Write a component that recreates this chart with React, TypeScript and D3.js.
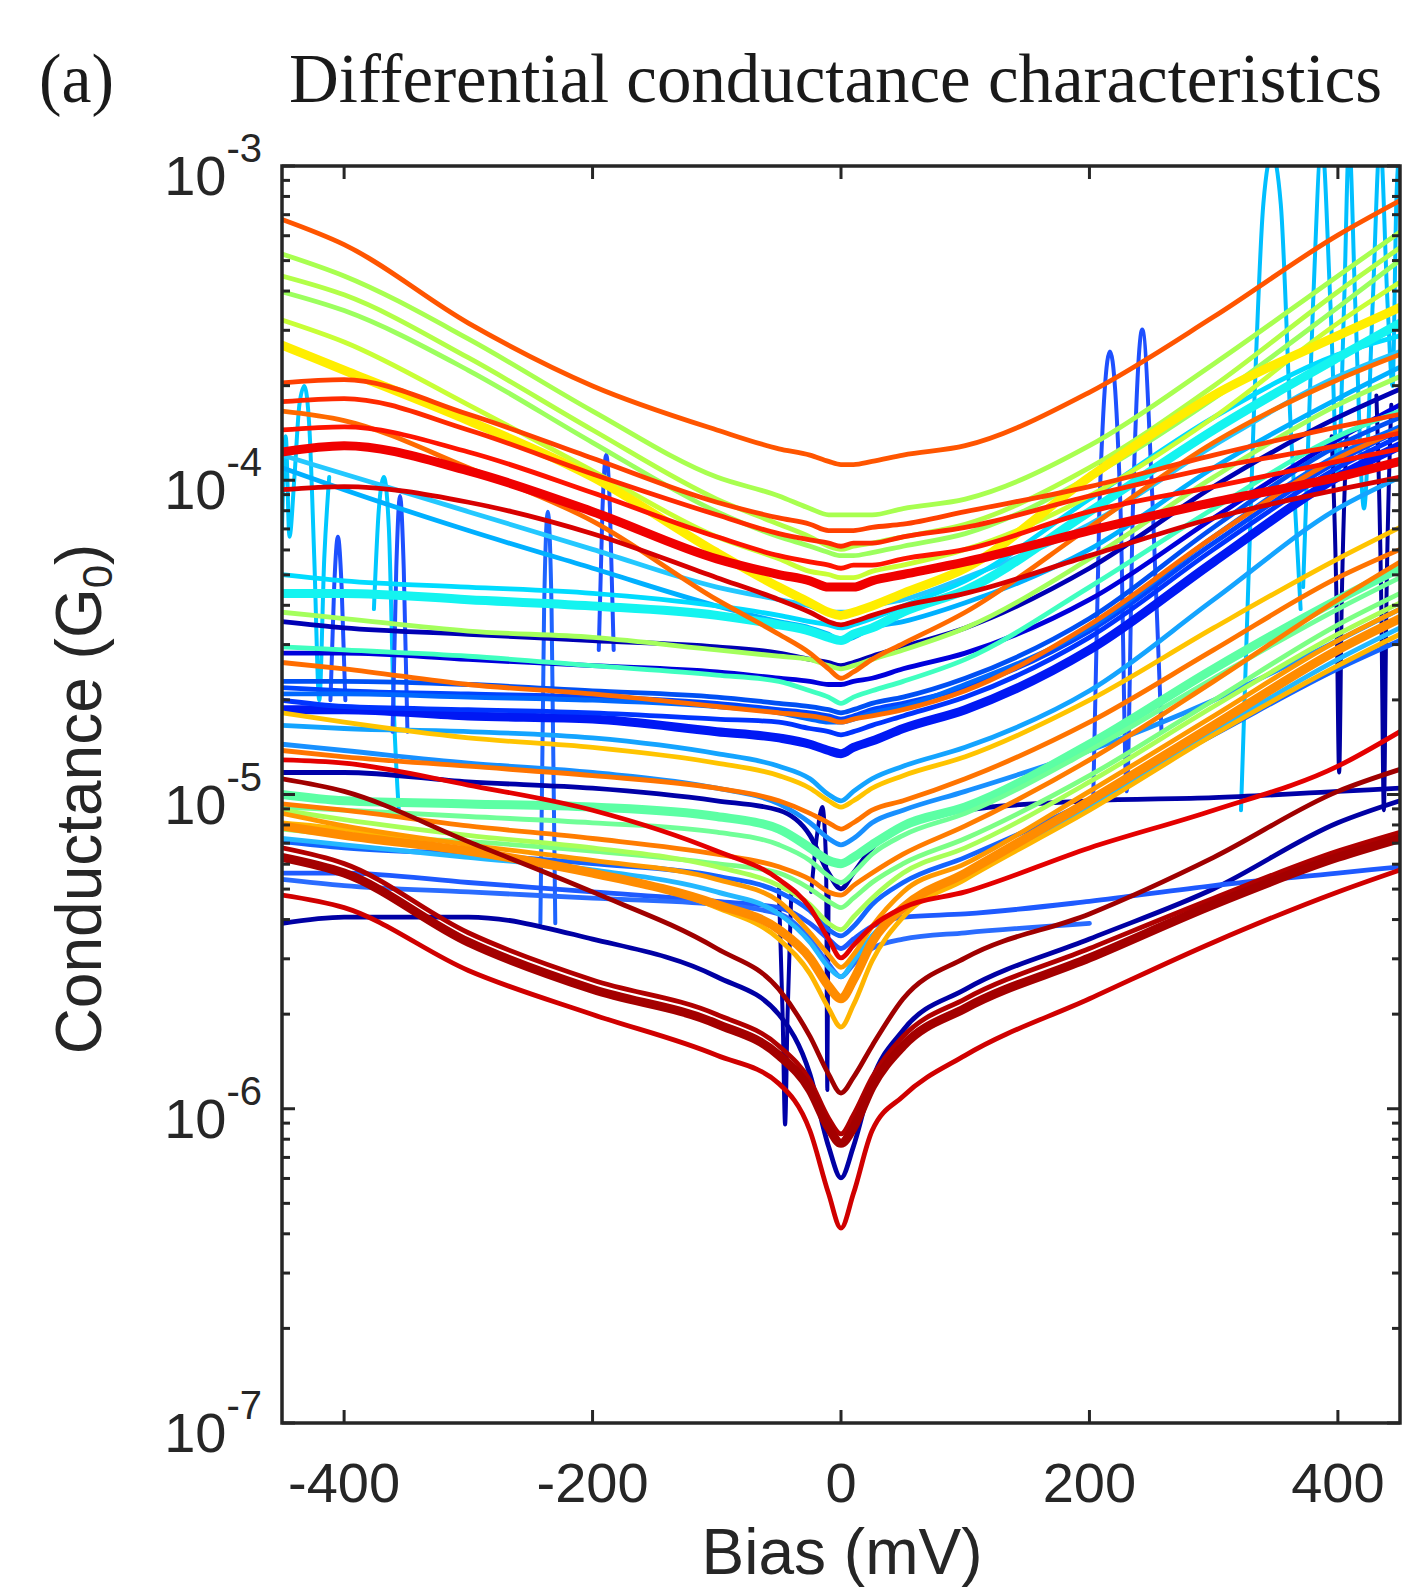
import React from 'react';
import * as d3 from 'd3';

// Bias sample points (mV) shared by every trace
const biasMV = [-450, -400, -300, -200, -100, -50, -25, -10, 0, 10, 25, 50, 100, 200, 300, 400, 450];

// log10 of differential conductance (G0) at each bias sample
const tDBB = [-5.41,-5.39,-5.39,-5.46,-5.58,-5.70,-5.89,-6.12,-6.22,-6.12,-5.91,-5.75,-5.62,-5.46,-5.30,-5.09,-5.02];
const tM6 = [-4.93,-4.93,-4.96,-4.98,-5.02,-5.05,-5.13,-5.25,-5.30,-5.25,-5.17,-5.10,-5.05,-5.02,-5.01,-4.99,-4.98];
const tDB1 = [-4.45,-4.47,-4.49,-4.51,-4.53,-4.55,-4.57,-4.58,-4.59,-4.58,-4.56,-4.53,-4.47,-4.28,-4.02,-3.80,-3.71];
const tDB2 = [-4.55,-4.55,-4.57,-4.59,-4.61,-4.63,-4.64,-4.65,-4.65,-4.64,-4.63,-4.60,-4.55,-4.38,-4.12,-3.87,-3.76];
const tB4 = [-4.73,-4.73,-4.75,-4.76,-4.80,-4.82,-4.84,-4.86,-4.87,-4.85,-4.83,-4.79,-4.73,-4.54,-4.26,-3.99,-3.89];
const tB3 = [-4.70,-4.72,-4.73,-4.74,-4.76,-4.77,-4.79,-4.80,-4.81,-4.80,-4.78,-4.75,-4.69,-4.50,-4.22,-3.96,-3.86];
const tB5 = [-4.66,-4.67,-4.68,-4.69,-4.71,-4.73,-4.74,-4.75,-4.76,-4.75,-4.73,-4.71,-4.66,-4.48,-4.20,-3.94,-3.84];
const tB1 = [-4.64,-4.64,-4.65,-4.67,-4.69,-4.71,-4.72,-4.73,-4.74,-4.73,-4.71,-4.69,-4.63,-4.44,-4.15,-3.89,-3.80];
const tBL2 = [-5.25,-5.25,-5.28,-5.31,-5.34,-5.36,-5.41,-5.46,-5.49,-5.46,-5.42,-5.39,-5.38,-5.34,-5.29,-5.25,-5.23];
const tM10 = [-5.15,-5.17,-5.19,-5.22,-5.26,-5.31,-5.37,-5.43,-5.45,-5.42,-5.35,-5.28,-5.20,-5.02,-4.81,-4.60,-4.51];
const tB2 = [-4.68,-4.68,-4.69,-4.70,-4.72,-4.74,-4.76,-4.77,-4.77,-4.76,-4.74,-4.72,-4.65,-4.47,-4.18,-3.92,-3.83];
const tBL1 = [-5.27,-5.29,-5.31,-5.33,-5.35,-5.38,-5.46,-5.54,-5.58,-5.54,-5.49,-5.46,-5.44,-5.41,null,null,null];
const tM4 = [-4.84,-4.86,-4.90,-4.93,-4.98,-5.03,-5.09,-5.14,-5.16,-5.14,-5.09,-5.05,-4.99,-4.86,-4.70,-4.51,-4.41];
const tM1 = [-4.78,-4.79,-4.80,-4.82,-4.87,-4.91,-4.95,-5.00,-5.02,-4.99,-4.95,-4.91,-4.85,-4.67,-4.38,-4.09,-3.99];
const tLB2 = [-3.96,-4.03,-4.16,-4.28,-4.40,-4.45,-4.47,-4.49,-4.51,-4.50,-4.47,-4.45,-4.39,-4.22,-3.96,-3.74,-3.64];
const tM12 = [-5.14,-5.16,-5.20,-5.24,-5.31,-5.38,-5.47,-5.55,-5.58,-5.53,-5.45,-5.36,-5.25,-5.04,-4.80,-4.57,-4.47];
const tLB1 = [-3.92,-3.98,-4.10,-4.22,-4.34,-4.38,-4.40,-4.42,-4.42,-4.42,-4.40,-4.38,-4.31,-4.14,-3.89,-3.67,-3.59];
const tCY2 = [-4.30,-4.32,-4.34,-4.36,-4.40,-4.43,-4.45,-4.46,-4.47,-4.46,-4.44,-4.40,-4.32,-4.06,-3.80,-3.60,-3.54];
const tCY1 = [-4.36,-4.36,-4.38,-4.40,-4.43,-4.46,-4.48,-4.50,-4.51,-4.49,-4.47,-4.42,-4.35,-4.10,-3.84,-3.61,-3.50];
const tAQ1 = [-4.53,-4.54,-4.56,-4.59,-4.62,-4.64,-4.67,-4.69,-4.71,-4.69,-4.67,-4.64,-4.57,-4.34,-4.09,-3.86,-3.78];
const tM5 = [-5.00,-5.02,-5.03,-5.04,-5.07,-5.11,-5.17,-5.21,-5.22,-5.20,-5.16,-5.10,-5.04,-4.84,-4.60,-4.38,-4.28];
const tM15 = [-5.04,-5.05,-5.07,-5.09,-5.12,-5.16,-5.21,-5.26,-5.28,-5.25,-5.19,-5.13,-5.06,-4.86,-4.63,-4.41,-4.31];
const tM8 = [-5.11,-5.13,-5.15,-5.18,-5.22,-5.25,-5.30,-5.34,-5.36,-5.33,-5.28,-5.22,-5.14,-4.94,-4.70,-4.46,-4.36];
const tT4 = [-3.40,-3.46,-3.65,-3.88,-4.10,-4.18,-4.21,-4.23,-4.24,-4.24,-4.23,-4.21,-4.17,-3.99,-3.74,-3.45,-3.30];
const tLG1 = [-4.42,-4.44,-4.48,-4.50,-4.54,-4.56,-4.57,-4.59,-4.60,-4.59,-4.57,-4.54,-4.47,-4.25,-3.99,-3.76,-3.67];
const tT2 = [-3.28,-3.35,-3.55,-3.78,-3.99,-4.05,-4.09,-4.11,-4.11,-4.11,-4.11,-4.09,-4.06,-3.89,-3.63,-3.35,-3.21];
const tM9 = [-5.05,-5.08,-5.13,-5.17,-5.23,-5.29,-5.35,-5.41,-5.43,-5.39,-5.33,-5.25,-5.17,-4.96,-4.72,-4.49,-4.39];
const tT3 = [-3.35,-3.41,-3.61,-3.84,-4.06,-4.14,-4.18,-4.21,-4.22,-4.21,-4.20,-4.18,-4.14,-3.96,-3.70,-3.40,-3.26];
const tT5 = [-3.49,-3.56,-3.76,-3.97,-4.18,-4.25,-4.29,-4.30,-4.31,-4.31,-4.29,-4.27,-4.22,-4.05,-3.80,-3.50,-3.37];
const tT6 = [-3.57,-3.65,-3.81,-3.99,-4.23,-4.34,-4.39,-4.42,-4.43,-4.42,-4.40,-4.36,-4.28,-3.99,-3.73,-3.54,-3.45];
const tM14 = [-5.09,-5.11,-5.18,-5.25,-5.36,-5.46,-5.57,-5.68,-5.74,-5.67,-5.53,-5.39,-5.27,-5.05,-4.81,-4.59,-4.49];
const tM2 = [-4.74,-4.77,-4.82,-4.85,-4.90,-4.94,-4.98,-5.02,-5.04,-5.02,-4.98,-4.94,-4.88,-4.70,-4.47,-4.25,-4.15];
const tM11 = [-5.06,-5.10,-5.16,-5.21,-5.27,-5.34,-5.44,-5.51,-5.55,-5.51,-5.42,-5.31,-5.22,-4.99,-4.75,-4.51,-4.41];
const tM13 = [-5.10,-5.13,-5.18,-5.25,-5.35,-5.43,-5.52,-5.61,-5.65,-5.59,-5.47,-5.36,-5.25,-5.02,-4.78,-4.54,-4.44];
const tM7 = [-5.03,-5.05,-5.10,-5.14,-5.19,-5.23,-5.27,-5.31,-5.32,-5.29,-5.25,-5.19,-5.10,-4.89,-4.64,-4.38,-4.26];
const tM3 = [-4.86,-4.88,-4.91,-4.94,-4.98,-5.02,-5.06,-5.09,-5.11,-5.09,-5.05,-5.02,-4.95,-4.77,-4.54,-4.31,-4.22];
const tO2 = [-4.58,-4.60,-4.65,-4.68,-4.72,-4.74,-4.75,-4.76,-4.77,-4.76,-4.75,-4.73,-4.67,-4.46,-4.18,-3.93,-3.84];
const tO1 = [-3.78,-3.81,-3.96,-4.13,-4.38,-4.49,-4.55,-4.60,-4.63,-4.61,-4.57,-4.52,-4.42,-4.15,-3.88,-3.68,-3.60];
const tT1 = [-3.17,-3.25,-3.50,-3.70,-3.84,-3.90,-3.92,-3.94,-3.95,-3.95,-3.94,-3.92,-3.89,-3.72,-3.48,-3.22,-3.11];
const tR1 = [-3.69,-3.68,-3.79,-3.93,-4.07,-4.12,-4.14,-4.16,-4.16,-4.16,-4.15,-4.14,-4.10,-4.02,-3.92,-3.83,-3.79];
const tR2 = [-3.75,-3.74,-3.84,-3.98,-4.11,-4.17,-4.19,-4.20,-4.21,-4.20,-4.20,-4.18,-4.15,-4.05,-3.96,-3.89,-3.85];
const tR3 = [-3.84,-3.83,-3.91,-4.04,-4.18,-4.24,-4.26,-4.27,-4.28,-4.27,-4.27,-4.25,-4.22,-4.10,-4.02,-3.94,-3.90];
const tR4 = [-3.91,-3.89,-3.97,-4.10,-4.25,-4.30,-4.32,-4.34,-4.34,-4.34,-4.32,-4.30,-4.26,-4.16,-4.07,-3.99,-3.94];
const tRU = [-4.89,-4.90,-4.97,-5.05,-5.18,-5.27,-5.36,-5.46,-5.52,-5.48,-5.42,-5.36,-5.31,-5.17,-5.05,-4.91,-4.80];
const tR5 = [-4.03,-4.02,-4.07,-4.17,-4.31,-4.38,-4.42,-4.45,-4.46,-4.45,-4.43,-4.40,-4.36,-4.24,-4.12,-4.03,-3.99];
const tRB = [-5.32,-5.36,-5.56,-5.70,-5.83,-5.92,-6.07,-6.27,-6.38,-6.27,-6.07,-5.96,-5.83,-5.65,-5.47,-5.31,-5.24];
const tDR1 = [-4.95,-4.99,-5.15,-5.31,-5.49,-5.62,-5.77,-5.89,-5.95,-5.90,-5.80,-5.65,-5.52,-5.38,-5.20,-4.99,-4.92];
const tDR3 = [-5.17,-5.22,-5.44,-5.59,-5.70,-5.80,-5.91,-6.03,-6.08,-6.02,-5.90,-5.77,-5.65,-5.49,-5.33,-5.18,-5.12];
const tDR2 = [-5.20,-5.25,-5.47,-5.62,-5.73,-5.83,-5.94,-6.06,-6.11,-6.06,-5.93,-5.80,-5.68,-5.52,-5.35,-5.20,-5.14];

const traces = [tDBB, tM6, tDB1, tDB2, tB4, tB3, tB5, tB1, tBL2, tM10, tB2, tBL1, tM4, tM1, tLB2, tM12, tLB1,
  tCY2, tCY1, tAQ1, tM5, tM15, tM8, tT4, tLG1, tT2, tM9, tT3, tT5, tT6, tM14, tM2, tM11, tM13, tM7, tM3, tO2,
  tO1, tT1, tR1, tR2, tR3, tR4, tRU, tR5, tRB, tDR1, tDR3, tDR2];

const traceColors = ['#0000A4', '#0000A8', '#0000B4', '#0000DC', '#0018F4', '#0034FF', '#0044FF', '#0050F4', '#1E5AFF',
  '#1464FF', '#0068FF', '#2A6CFF', '#1890FF', '#14A4FF', '#00B0FF', '#24B8FF', '#24C8FF', '#00DCFF', '#14F4F0',
  '#40FFC0', '#5CFFA4', '#70FF98', '#7CFF84', '#9CFF5E', '#A4FF5C', '#A8FF50', '#A8FF58', '#B2FF48', '#C8FF36', '#FFEE00',
  '#FFB400', '#FFC400', '#FF9800', '#FF8C00', '#FF7C00', '#FF7400', '#FF6C00', '#FF6A00', '#FF5500', '#FF4000',
  '#FF2A00', '#FF1400', '#F00000', '#E40000', '#D80000', '#D00000', '#A00000', '#B00000', '#A40000'];

const thickTraces = [4, 18, 20, 29, 33, 42, 48];

// Glitch spikes in single sweeps: bias (mV) and log10 conductance
const spikeBias = [
  [203, 208, 216.5, 225, 230, 235, 242.5, 251, 258],
  [322, 332, 340, 347, 354, 362, 370],
  [372, 380, 387, 394, 400, 405, 409, 414, 421, 428, 434, 440, 444, 447, 450],
  [395, 399, 401, 403, 407],
  [431, 435, 437, 439, 443],
  [-450, -447, -444, -440, -436, -432, -428, -424, -420, -416, -412],
  [-376, -372, -368, -364, -360, -356],
  [-411, -408, -405, -402, -399],
  [-361, -358, -355, -352, -349],
  [-242, -239, -236, -233, -230],
  [-195, -192, -189, -186, -183],
  [-50, -47, -45, -43, -40],
  [-24, -19, -15, -12, -11, -10],
];
const spikeLogG = [
  [-5.02, -4.09, -3.59, -4.09, -4.99, -4.09, -3.52, -4.09, -4.80],
  [-5.05, -3.83, -3.12, -2.96, -3.12, -3.83, -4.41],
  [-4.34, -3.44, -2.92, -3.44, -3.99, -3.44, -2.92, -3.44, -4.09, -3.44, -2.92, -3.44, -3.70, -3.12, -2.92],
  [-3.86, -4.41, -4.93, -4.41, -3.86],
  [-3.73, -4.41, -5.05, -4.41, -3.76],
  [-4.15, -3.86, -4.18, -3.99, -3.76, -3.70, -3.83, -4.25, -4.70, -4.25, -3.99],
  [-4.41, -4.09, -3.99, -4.15, -4.73, -5.05],
  [-4.70, -4.34, -4.18, -4.34, -4.70],
  [-4.80, -4.28, -4.05, -4.28, -4.80],
  [-5.41, -4.41, -4.10, -4.41, -5.41],
  [-4.54, -4.09, -3.92, -4.09, -4.54],
  [-5.30, -5.70, -6.05, -5.70, -5.31],
  [-5.31, -5.12, -5.04, -5.22, -5.94, -5.31],
];
const spikeColors = ['#1E50FF', '#00BFFF', '#00BFFF', '#0000A0', '#0000A0', '#00C8FF', '#00C8FF',
  '#1E50FF', '#1E50FF', '#1E64FF', '#1E50FF', '#0000A8', '#0000A8'];

const xTicks = [-400, -200, 0, 200, 400];
const yTickExponents = [-3, -4, -5, -6, -7];
const minorMantissas = [2, 3, 4, 5, 6, 7, 8, 9];

export default function App() {
  const W = 1408, H = 1591;
  const L = 282, R = 1400, T = 166, B = 1423;
  const axisColor = '#262626';
  const x = d3.scaleLinear().domain([-450, 450]).range([L, R]);
  const y = d3.scaleLog().domain([1e-7, 1e-3]).range([B, T]);

  const line = d3.line<[number, number | null]>()
    .defined((d) => d[1] !== null)
    .x((d) => x(d[0]))
    .y((d) => y(Math.pow(10, d[1] as number)))
    .curve(d3.curveMonotoneX);

  const minorVals: number[] = [];
  for (let e = -7; e < -3; e++) for (const m of minorMantissas) minorVals.push(m * Math.pow(10, e));

  const sans = "'Liberation Sans', Arial, Helvetica, sans-serif";
  const serif = "'Liberation Serif', 'Times New Roman', serif";

  return (
    <svg width={W} height={H} viewBox={`0 0 ${W} ${H}`}
      style={{ position: 'absolute', left: 0, top: 0, display: 'block', background: '#fff' }}>
      <defs>
        <clipPath id="plotClip">
          <rect x={L} y={T} width={R - L} height={B - T} />
        </clipPath>
      </defs>
      <rect x={0} y={0} width={W} height={H} fill="#fff" />
      <text x={39} y={102} fontFamily={serif} fontSize={69} fill="#1a1a1a" textLength={75} lengthAdjust="spacingAndGlyphs">(a)</text>
      <text x={289} y={102} fontFamily={serif} fontSize={69} fill="#1a1a1a" textLength={1093} lengthAdjust="spacingAndGlyphs">Differential conductance characteristics</text>

      <g clipPath="url(#plotClip)" fill="none" strokeLinejoin="round" strokeLinecap="round">
        {spikeBias.map((xs, i) => (
          <path key={'s' + i} d={line(xs.map((v, j) => [v, spikeLogG[i][j]]) as any) || ''}
            stroke={spikeColors[i]} strokeWidth={4} />
        ))}
        {traces.map((tr, i) => (
          <path key={'t' + i} d={line(biasMV.map((v, j) => [v, tr[j]]) as any) || ''}
            stroke={traceColors[i]} strokeWidth={thickTraces.includes(i) ? 9 : 4.8} />
        ))}
      </g>

      <g stroke={axisColor} strokeWidth={3}>
        {xTicks.map((t) => (
          <g key={'xt' + t}>
            <line x1={x(t)} x2={x(t)} y1={B} y2={B - 13} />
            <line x1={x(t)} x2={x(t)} y1={T} y2={T + 13} />
          </g>
        ))}
        {yTickExponents.map((e) => (
          <g key={'yt' + e}>
            <line x1={L} x2={L + 13} y1={y(Math.pow(10, e))} y2={y(Math.pow(10, e))} />
            <line x1={R} x2={R - 13} y1={y(Math.pow(10, e))} y2={y(Math.pow(10, e))} />
          </g>
        ))}
        {minorVals.map((v, i) => (
          <g key={'mt' + i}>
            <line x1={L} x2={L + 8} y1={y(v)} y2={y(v)} />
            <line x1={R} x2={R - 8} y1={y(v)} y2={y(v)} />
          </g>
        ))}
      </g>
      <rect x={L} y={T} width={R - L} height={B - T} fill="none" stroke={axisColor} strokeWidth={3.5} />

      {xTicks.map((t) => (
        <text key={'xl' + t} x={x(t)} y={1502} textAnchor="middle" fontFamily={sans} fontSize={56} fill={axisColor}>{t}</text>
      ))}
      {yTickExponents.map((e) => (
        <text key={'yl' + e} x={262} y={y(Math.pow(10, e)) + 29} textAnchor="end" fontFamily={sans} fontSize={56} fill={axisColor}>
          10<tspan fontSize={40} dy={-33}>{e}</tspan>
        </text>
      ))}

      <text x={842} y={1574} textAnchor="middle" fontFamily={sans} fontSize={64} fill={axisColor}>Bias (mV)</text>
      <text transform="translate(101,799) rotate(-90)" textAnchor="middle" fontFamily={sans} fontSize={64} fill={axisColor}>
        Conductance (G<tspan fontSize={42} dy={11}>0</tspan><tspan dy={-11}>)</tspan>
      </text>
    </svg>
  );
}
